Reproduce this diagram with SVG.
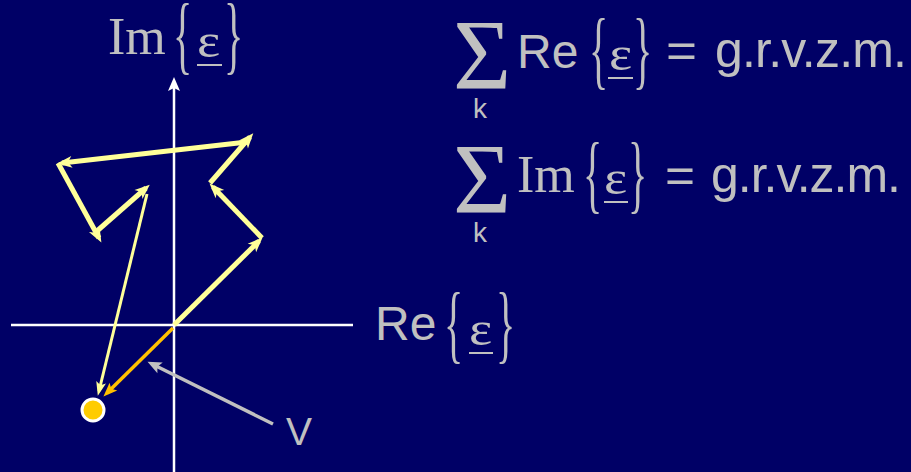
<svg xmlns="http://www.w3.org/2000/svg" width="911" height="472" viewBox="0 0 911 472">
<style>
.sans{font-family:"Liberation Sans",Arial,sans-serif;fill:#C0C0C0}
.serif{font-family:"Liberation Serif","Times New Roman",serif;fill:#C0C0C0}
.ax{stroke:#FFFFFF;stroke-width:2.5;fill:none}
.yt{stroke:#FFFF99;stroke-width:5;fill:none}
.yn{stroke:#FFFF99;stroke-width:3;fill:none}
.ul{stroke:#C0C0C0;stroke-width:2}
</style>
<defs>
<marker id="aw" markerUnits="userSpaceOnUse" markerWidth="20" markerHeight="20" viewBox="-2 -10 20 20" refX="9" refY="0" orient="auto"><path d="M14,0 L0,-6 L3,0 L0,6 Z" fill="#FFFFFF"/></marker>
<marker id="ay" markerUnits="userSpaceOnUse" markerWidth="20" markerHeight="20" viewBox="-2 -10 20 20" refX="10" refY="0" orient="auto"><path d="M15,0 L0,-6 L4,0 L0,6 Z" fill="#FFFF99"/></marker>
<marker id="ayn" markerUnits="userSpaceOnUse" markerWidth="20" markerHeight="20" viewBox="-2 -10 20 20" refX="9" refY="0" orient="auto"><path d="M14,0 L0,-5 L3,0 L0,5 Z" fill="#FFFF99"/></marker>
<marker id="ao" markerUnits="userSpaceOnUse" markerWidth="20" markerHeight="20" viewBox="-2 -10 20 20" refX="9" refY="0" orient="auto"><path d="M14,0 L0,-5.5 L3,0 L0,5.5 Z" fill="#FFC000"/></marker>
<marker id="ag" markerUnits="userSpaceOnUse" markerWidth="20" markerHeight="20" viewBox="-2 -10 20 20" refX="9" refY="0" orient="auto"><path d="M14,0 L0,-6 L3,0 L0,6 Z" fill="#C0C0C0"/></marker>
</defs>
<rect x="0" y="0" width="911" height="472" fill="#000066"/>
<g id="axes">
<line class="ax" x1="11" y1="325" x2="353" y2="325"/>
<line class="ax" x1="174" y1="472" x2="174" y2="82" marker-end="url(#aw)"/>
</g>
<g id="connectors">
<line class="yt" x1="174" y1="325" x2="259" y2="241" marker-end="url(#ay)"/>
<line class="yt" x1="262" y1="238" x2="213" y2="187" marker-end="url(#ay)"/>
<line class="yt" x1="210" y1="183" x2="250" y2="137" marker-end="url(#ay)"/>
<line class="yt" x1="247" y1="142" x2="62" y2="163" marker-end="url(#ay)"/>
<line class="yt" x1="58" y1="163" x2="99" y2="238" marker-end="url(#ay)"/>
<line class="yt" x1="97" y1="231" x2="146" y2="188" marker-end="url(#ay)"/>
<line class="yn" x1="147" y1="194" x2="99" y2="391" marker-end="url(#ayn)"/>
<line stroke="#FFC000" stroke-width="3.5" x1="173" y1="328" x2="107" y2="393" marker-end="url(#ao)"/>
<line stroke="#C0C0C0" stroke-width="3.5" x1="273" y1="424" x2="152" y2="364" marker-end="url(#ag)"/>
</g>
<g id="result-point">
<circle cx="93" cy="410" r="11" fill="#FFCC00" stroke="#FFFFFF" stroke-width="3"/>
</g>
<g id="label-v">
<text class="sans" x="286" y="445" font-size="39">V</text>
</g>
<g id="label-im-axis">
<text class="serif" x="108" y="54" font-size="52">Im</text>
<text class="serif" font-size="40" transform="translate(173,63) scale(1,2.15)">{</text>
<text class="serif" font-size="48" transform="translate(197,57) scale(1.15,1)">ε</text>
<line class="ul" x1="197" y1="65" x2="222" y2="65"/>
<text class="serif" font-size="40" transform="translate(224,63) scale(1,2.15)">}</text>
</g>
<g id="label-re-axis">
<text class="sans" x="375" y="340" font-size="48">Re</text>
<text class="serif" font-size="40" transform="translate(444,352) scale(1,2.15)">{</text>
<text class="serif" font-size="48" transform="translate(469,345) scale(1.15,1)">ε</text>
<line class="ul" x1="469" y1="353" x2="493" y2="353"/>
<text class="serif" font-size="40" transform="translate(496,352) scale(1,2.15)">}</text>
</g>
<g id="eq-re">
<text class="serif" x="453" y="88" font-size="100">Σ</text>
<text class="sans" x="473" y="118" font-size="28">k</text>
<text class="sans" x="517" y="68" font-size="48">Re</text>
<text class="serif" font-size="40" transform="translate(589,78) scale(1,2.15)">{</text>
<text class="serif" font-size="48" transform="translate(609,70) scale(1.15,1)">ε</text>
<line class="ul" x1="608" y1="78" x2="633" y2="78"/>
<text class="serif" font-size="40" transform="translate(633,78) scale(1,2.15)">}</text>
<text class="sans" x="666" y="67" font-size="48" textLength="31" lengthAdjust="spacingAndGlyphs">=</text>
<text class="sans" x="715" y="67" font-size="50" textLength="192" lengthAdjust="spacing">g.r.v.z.m.</text>
</g>
<g id="eq-im">
<text class="serif" x="453" y="212" font-size="100">Σ</text>
<text class="sans" x="473" y="242" font-size="28">k</text>
<text class="serif" x="517" y="192" font-size="52">Im</text>
<text class="serif" font-size="40" transform="translate(583,202) scale(1,2.15)">{</text>
<text class="serif" font-size="48" transform="translate(604,194) scale(1.15,1)">ε</text>
<line class="ul" x1="604" y1="202" x2="628" y2="202"/>
<text class="serif" font-size="40" transform="translate(628,202) scale(1,2.15)">}</text>
<text class="sans" x="665" y="192" font-size="48" textLength="30" lengthAdjust="spacingAndGlyphs">=</text>
<text class="sans" x="711" y="192" font-size="50" textLength="190" lengthAdjust="spacing">g.r.v.z.m.</text>
</g>
</svg>
